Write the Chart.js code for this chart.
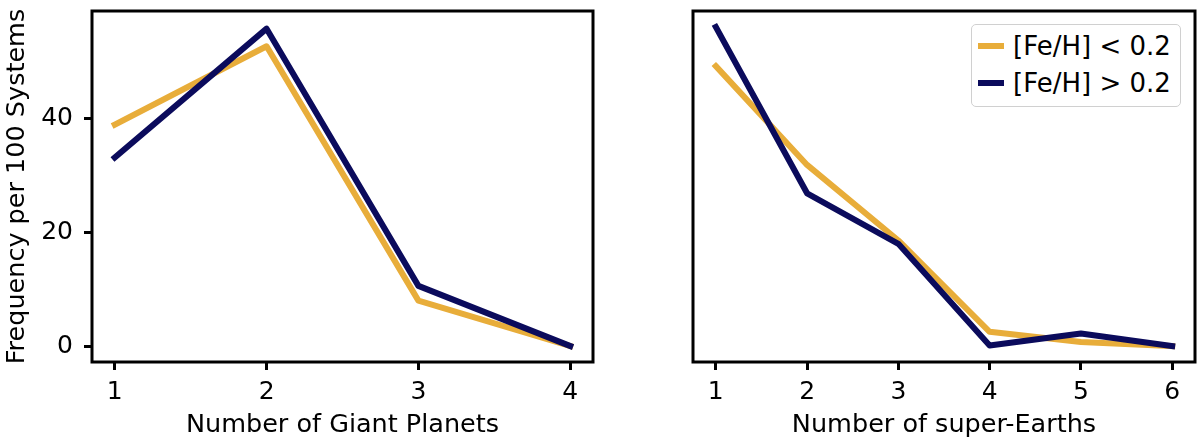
<!DOCTYPE html>
<html>
<head>
<meta charset="utf-8">
<script src="https://cdn.jsdelivr.net/npm/chart.js@4"></script>
<style>
  body { margin: 0; background: #fff; }
  #wrap { position: relative; width: 1200px; height: 448px; font-family: "DejaVu Sans", sans-serif; }
  .panel { position: absolute; top: 0; width: 600px; height: 448px; }
  #legend { position: absolute; left: 971px; top: 24px; width: 208px; height: 81px;
    border: 1.5px solid #d0d0d0; border-radius: 5px; background: #fff; font-size: 26px; }
  .row { position: absolute; left: 0; height: 30px; line-height: 30px; white-space: nowrap; }
  .swatch { position: absolute; left: 6px; top: 12px; width: 26px; height: 6px; }
  .label { position: absolute; left: 41px; top: 0; }
</style>
</head>
<body>
<div id="wrap">
  <div class="panel" style="left:0"><canvas id="giantChart"></canvas></div>
  <div class="panel" style="left:600px"><canvas id="superChart"></canvas></div>
  <div id="legend"></div>
</div>
<script>
// data
const giantCounts = [1, 2, 3, 4];
const giantLowFe = [39.0, 52.8, 8.0, 0];
const giantHighFe = [33.2, 55.9, 10.6, 0];

const superCounts = [1, 2, 3, 4, 5, 6];
const superLowFe = [49.3, 31.9, 18.6, 2.5, 0.7, 0];
const superHighFe = [56.2, 26.9, 18.0, 0.1, 2.2, 0];

const yTicks = [0, 20, 40];
const seriesNames = ['[Fe/H] < 0.2', '[Fe/H] > 0.2'];
const lowColor = '#e8ad3a';
const highColor = '#0b0b5c';

const TICK_FONT = { family: 'DejaVu Sans', size: 25 };
const TITLE_FONT = { family: 'DejaVu Sans', size: 25.5 };

// matplotlib style full box around the axes
const frame = {
  id: 'frame',
  afterDatasetsDraw(chart) {
    const a = chart.chartArea, ctx = chart.ctx;
    ctx.save();
    ctx.strokeStyle = '#000';
    ctx.lineWidth = 3;
    ctx.strokeRect(a.left, a.top, a.right - a.left, a.bottom - a.top);
    ctx.restore();
  }
};

function toPoints(xs, ys) {
  return xs.map((x, i) => ({ x: x, y: ys[i] }));
}

function noPad(axis) {
  axis.paddingTop = 0; axis.paddingBottom = 0;
  axis.paddingLeft = 0; axis.paddingRight = 0;
}

function makeChart(id, xs, low, high, xTitle, showY, pad) {
  const ctx = document.getElementById(id).getContext('2d');
  const xMargin = (xs[xs.length - 1] - xs[0]) * 0.05;
  const yMargin = 56.2 * 0.05;
  return new Chart(ctx, {
    type: 'line',
    data: {
      datasets: [{
        label: seriesNames[0],
        data: toPoints(xs, low),
        borderColor: lowColor,
        borderWidth: 6,
        order: 1
      }, {
        label: seriesNames[1],
        data: toPoints(xs, high),
        borderColor: highColor,
        borderWidth: 6,
        order: 0
      }]
    },
    options: {
      responsive: false,
      animation: false,
      devicePixelRatio: 1,
      layout: { padding: pad },
      elements: {
        point: { radius: 0 },
        line: { tension: 0, borderJoinStyle: 'round', borderCapStyle: 'square' }
      },
      plugins: { legend: { display: false }, tooltip: { enabled: false } },
      scales: {
        x: {
          type: 'linear',
          min: xs[0] - xMargin,
          max: xs[xs.length - 1] + xMargin,
          afterBuildTicks: axis => { axis.ticks = xs.map(v => ({ value: v })); },
          afterFit: axis => { axis.height = 86; noPad(axis); },
          border: { display: false },
          grid: { drawOnChartArea: false, tickLength: 8, lineWidth: 3, color: '#000' },
          ticks: { font: TICK_FONT, color: '#000', padding: 7, maxRotation: 0 },
          title: { display: true, text: xTitle, font: TITLE_FONT, color: '#000', padding: { top: 0, bottom: 7 } }
        },
        y: {
          min: -yMargin,
          max: 56.2 + yMargin,
          afterBuildTicks: axis => { axis.ticks = showY ? yTicks.map(v => ({ value: v })) : []; },
          afterFit: axis => { axis.width = showY ? 92 : 0; noPad(axis); },
          border: { display: false },
          grid: { drawOnChartArea: false, drawTicks: showY, tickLength: 8, lineWidth: 3, color: '#000' },
          ticks: { display: showY, font: TICK_FONT, color: '#000', padding: 11 },
          title: { display: showY, text: 'Frequency per 100 Systems', font: TITLE_FONT, color: '#000', padding: { top: 2, bottom: 0 } }
        }
      }
    },
    plugins: [frame]
  });
}

function sizeCanvas(id) {
  const c = document.getElementById(id);
  c.width = 600; c.height = 448;
  c.style.width = '600px'; c.style.height = '448px';
}
sizeCanvas('giantChart');
sizeCanvas('superChart');

makeChart('giantChart', giantCounts, giantLowFe, giantHighFe, 'Number of Giant Planets', true,
  { left: 0, right: 7, top: 11, bottom: 0 });
makeChart('superChart', superCounts, superLowFe, superHighFe, 'Number of super-Earths', false,
  { left: 93, right: 5, top: 11, bottom: 0 });

// legend box in the right panel
const legend = document.getElementById('legend');
legend.innerHTML = seriesNames.map((name, i) => `
  <div class="row" style="top:${6 + i * 37}px; width:100%">
    <span class="swatch" style="background:${i === 0 ? lowColor : highColor}"></span>
    <span class="label">${name}</span>
  </div>`).join('');
</script>
</body>
</html>
